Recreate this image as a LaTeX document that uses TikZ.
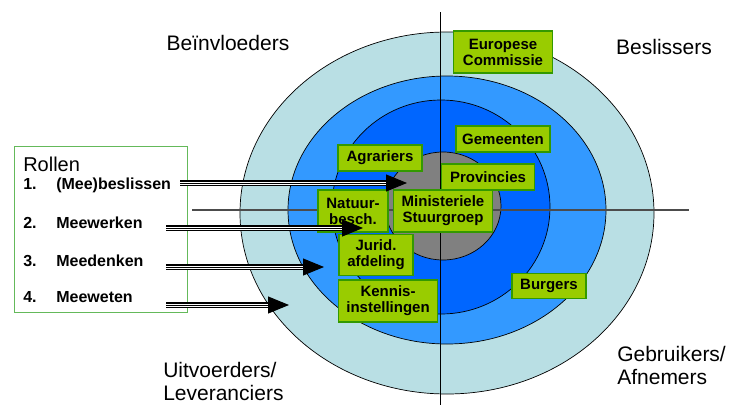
\documentclass[tikz,border=0pt]{standalone}
\usepackage{fontspec}
\setmainfont{Liberation Sans}
\usetikzlibrary{arrows.meta, positioning}

\definecolor{ringbuiten}{RGB}{185,223,228}
\definecolor{ringmidden}{RGB}{51,153,255}
\definecolor{ringbinnen}{RGB}{0,102,255}
\definecolor{kern}{RGB}{128,128,128}
\definecolor{boxgroen}{RGB}{153,204,0}
\definecolor{boxrand}{RGB}{51,153,0}
\definecolor{kaderrand}{RGB}{100,185,90}

\begin{document}
\begin{tikzpicture} [x = 1pt, y = -1pt, line width = 0.6pt,
  ring/.style = {draw = black, line width = 0.7pt},
  actor/.style = {draw = boxrand, fill = boxgroen, line width = 1.1pt, inner sep = 0pt,
    align = center, font = \fontsize{15}{16}\selectfont\bfseries},
  kwadrant/.style = {inner sep = 0pt, align = left, font = \fontsize{21}{23}\selectfont},
  rol/.style = {inner sep = 0pt, anchor = west, font = \fontsize{16}{18}\selectfont\bfseries},
  rolpijl/.style = {line width = 1pt, -{Triangle[length = 21pt, width = 17pt]},
    preaction = {draw, -, line width = 5.5pt, shorten >= 10pt},
    preaction = {draw = white, -, line width = 3pt, shorten >= 10pt}}]

\useasboundingbox (0,0) rectangle (731,407);

% rings
\draw [ring, fill = ringbuiten] (447,213) ellipse [x radius = 207pt, y radius = 181pt];
\draw [ring, fill = ringmidden] (447,210) ellipse [x radius = 159pt, y radius = 134pt];
\draw [ring, fill = ringbinnen] (441,207) ellipse [x radius = 109pt, y radius = 107pt];
\draw [ring, fill = kern] (443,206) ellipse [x radius = 58pt, y radius = 54pt];

% assen
\coordinate (hw) at (192,210);
\coordinate (ho) at (689,210);
\coordinate (vn) at (440,12);
\coordinate (vz) at (440,405);
\draw [line width = 1.4pt, black!70] (hw) -- (ho);
\draw [line width = 0.9pt] (vn) -- (vz);

\node [kwadrant] (bein) at (228,43) {Beïnvloeders};
\node [kwadrant] (besl) at (664,47) {Beslissers};
\node [kwadrant, anchor = north west] (uitv) at (163,362) {Uitvoerders/\\Leveranciers};
\node [kwadrant, anchor = north west] (gebr) at (617,346) {Gebruikers/\\Afnemers};

\node [actor, minimum width = 99pt, minimum height = 42pt] (ec) at (503,52) {Europese\\Commissie};
\node [actor, minimum width = 94pt, minimum height = 26pt] (gem) at (503,139) {Gemeenten};
\node [actor, minimum width = 84pt, minimum height = 26pt] (agr) at (380,158) {Agrariers};
\node [actor, minimum width = 93pt, minimum height = 26pt] (prov) at (488,177) {Provincies};
\node [actor, minimum width = 70pt, minimum height = 42pt] (nat) at (353,211) {Natuur-\\besch.};
\node [actor, minimum width = 99pt, minimum height = 42pt] (min) at (443,211) {Ministeriele\\Stuurgroep};
\node [actor, minimum width = 74pt, minimum height = 41pt] (jur) at (376,255) {Jurid.\\afdeling};
\node [actor, minimum width = 99pt, minimum height = 42pt] (ken) at (388,301) {Kennis-\\instellingen};
\node [actor, minimum width = 74pt, minimum height = 25pt] (burg) at (549,286) {Burgers};

% rollen
\draw [kaderrand, line width = 1pt] (14,146) rectangle (187,312);
\node [inner sep = 0pt, anchor = west, font = \fontsize{20}{24}\selectfont] (rollen) at (23,164) {Rollen};
\node [rol] (r1) at (23,185) {\makebox[33pt][l]{1.}(Mee)beslissen};
\node [rol, below = 38pt of r1.west, anchor = west] (r2) {\makebox[33pt][l]{2.}Meewerken};
\node [rol, below = 38pt of r2.west, anchor = west] (r3) {\makebox[33pt][l]{3.}Meedenken};
\node [rol, below = 36pt of r3.west, anchor = west] (r4) {\makebox[33pt][l]{4.}Meeweten};

\coordinate (b1) at (180,183);
\coordinate (e1) at (407,183);
\coordinate (b2) at (166,228);
\coordinate (e2) at (363,228);
\coordinate (b3) at (166,267);
\coordinate (e3) at (324,267);
\coordinate (b4) at (166,305);
\coordinate (e4) at (289,305);

\path (b1) edge [rolpijl] (e1);
\path (b2) edge [rolpijl] (e2);
\path (b3) edge [rolpijl] (e3);
\path (b4) edge [rolpijl] (e4);

\end{tikzpicture}
\end{document}
